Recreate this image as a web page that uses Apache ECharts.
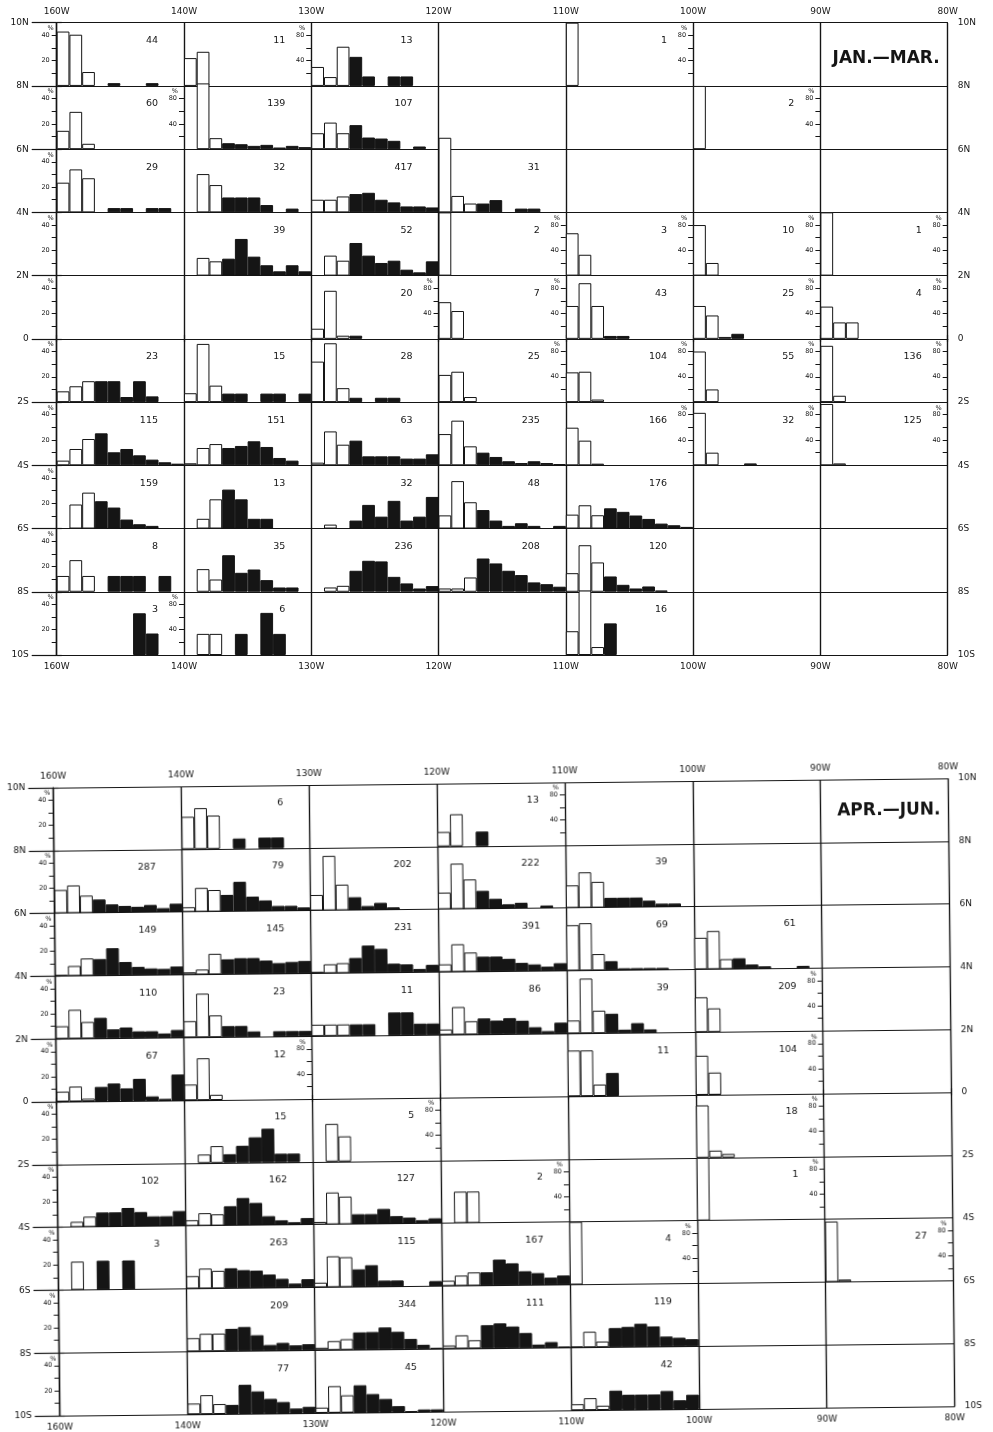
<!DOCTYPE html>
<html>
<head>
<meta charset="utf-8">
<script src="https://cdn.jsdelivr.net/npm/echarts@6/dist/echarts.min.js"></script>
<style>
  html, body { margin: 0; padding: 0; background: #fff; }
  #janMar { position: absolute; left: 0; top: 0; width: 993px; height: 716px; }
  #aprJun { position: absolute; left: 0; top: 716px; width: 993px; height: 716px;
            transform: rotate(-0.6deg); transform-origin: 504px 381px; }
</style>
</head>
<body>
<div id="janMar"></div>
<div id="aprJun"></div>
<script>
// Longitude band edges (7 columns) and latitude band edges (10 rows of 2°)
const LON_LABELS = ['160W', '140W', '130W', '120W', '110W', '100W', '90W', '80W'];
const LAT_LABELS = ['10N', '8N', '6N', '4N', '2N', '0', '2S', '4S', '6S', '8S', '10S'];
// Size classes of each small histogram; the first three are drawn open, the rest solid
const BINS = ['1', '2', '3', '4', '5', '6', '7', '8', '9', '10'];
const OPEN_BINS = 3;
const SEASONS = ['JAN.—MAR.', 'APR.—JUN.'];

// Each record: [lat band (0 = 10N–8N), lon band (0 = 160W–140W), count, % scale max, percent per class]
const JAN_MAR = [
  [0, 0, 44, 50, [43, 40.5, 11, 0, 2.2, 0, 0, 2.2]],
  [0, 1, 11, 100, [44, 54]],
  [0, 2, 13, 50, [15, 7, 31, 23, 7.5, 0, 7.5, 7.5]],
  [0, 4, 1, 100, [100]],
  [1, 0, 60, 100, [29, 59, 8.5]],
  [1, 1, 139, 50, [0, 52, 8.7, 4.7, 3.9, 2.6, 3.4, 1.3, 2.6, 1.6]],
  [1, 2, 107, 50, [12.6, 21, 12.6, 19, 9.2, 8.4, 6.6, 0, 2.1, 0]],
  [1, 5, 2, 100, [100]],
  [2, 0, 29, 50, [23.5, 34, 27, 0, 3.4, 3.4, 0, 3.4, 3.4]],
  [2, 1, 32, 50, [0, 30.3, 21.6, 11.8, 11.8, 11.8, 5.8, 0, 3]],
  [2, 2, 417, 50, [10, 10, 12.6, 14.5, 15.5, 10, 7.9, 4.7, 4.7, 3.9]],
  [2, 3, 31, 50, [59, 13, 7, 7, 9.7, 0, 3, 3]],
  [3, 1, 39, 50, [0, 14, 11.3, 13.4, 29, 15, 8.2, 3.4, 8.2, 3.4]],
  [3, 2, 52, 50, [0, 15.8, 11.8, 25.8, 15.8, 10, 11.8, 4.7, 2.6, 11.3]],
  [3, 3, 2, 100, [100]],
  [3, 4, 3, 100, [67, 33]],
  [3, 5, 10, 100, [80, 20]],
  [3, 6, 1, 100, [100]],
  [4, 2, 20, 100, [16, 76, 5, 5]],
  [4, 3, 7, 100, [58, 44]],
  [4, 4, 43, 50, [26, 44, 26, 2.3, 2.3]],
  [4, 5, 25, 100, [52, 37, 3, 8]],
  [4, 6, 4, 100, [51, 26, 26]],
  [5, 0, 23, 50, [8.5, 12.5, 16.5, 16.5, 16.5, 4, 16.5, 4.5]],
  [5, 1, 15, 50, [7, 46, 13, 6.7, 6.7, 0, 6.7, 6.7, 0, 6.7]],
  [5, 2, 28, 50, [32, 46.5, 11, 3.4, 0, 3.4, 3.4]],
  [5, 3, 25, 100, [43, 48, 8]],
  [5, 4, 104, 100, [47, 48, 4]],
  [5, 5, 55, 100, [80, 20]],
  [5, 6, 136, 100, [89, 10]],
  [6, 0, 115, 50, [3.7, 12.9, 20.8, 25.3, 10.3, 12.9, 7.9, 4.5, 2.4, 1.3]],
  [6, 1, 151, 50, [1.6, 13.7, 16.8, 13.7, 15.3, 19, 14.5, 5.8, 3.7]],
  [6, 2, 63, 50, [2.1, 26.8, 16.3, 19.5, 7.1, 7.1, 7.1, 5.3, 5.3, 8.7]],
  [6, 3, 235, 50, [24.7, 35.3, 15, 10, 6.6, 3.2, 1.8, 3.2, 1.8, 1]],
  [6, 4, 166, 100, [59.5, 39, 2.6]],
  [6, 5, 32, 100, [83, 20, 0, 0, 3]],
  [6, 6, 125, 100, [97, 3]],
  [7, 0, 159, 50, [0, 19, 28.4, 21.6, 16.6, 7.1, 3.4, 2.1]],
  [7, 1, 13, 50, [0, 7.7, 23.1, 30.8, 23.1, 7.7, 7.7]],
  [7, 2, 32, 50, [0, 3.1, 0, 6.3, 18.7, 9.4, 21.9, 6.3, 9.4, 25]],
  [7, 3, 48, 50, [10.4, 37.5, 20.8, 14.6, 6.3, 2.1, 4.2, 2.1, 0, 2.1]],
  [7, 4, 176, 50, [11, 18.4, 10.5, 16, 13.2, 10.3, 7.6, 3.9, 2.6, 1.3]],
  [8, 0, 8, 50, [12.5, 25, 12.5, 0, 12.5, 12.5, 12.5, 0, 12.5]],
  [8, 1, 35, 50, [0, 17.9, 9.7, 28.9, 15, 17.6, 9.2, 3.4, 3.4]],
  [8, 2, 236, 50, [0, 3.4, 4.7, 16.6, 24.5, 24, 11.8, 6.6, 2.6, 4.5]],
  [8, 3, 208, 50, [2.6, 2.6, 11.3, 26.3, 22.4, 16.6, 13.2, 7.4, 6, 4]],
  [8, 4, 120, 50, [14.7, 36.8, 23.2, 12.1, 5.5, 2.6, 4.2, 1]],
  [9, 0, 3, 100, [0, 0, 0, 0, 0, 0, 66, 34]],
  [9, 1, 6, 50, [0, 16.7, 16.7, 0, 16.7, 0, 33.3, 16.7]],
  [9, 4, 16, 50, [18.8, 51, 6.3, 25]]
];

const APR_JUN = [
  [0, 1, 6, 50, [25.7, 32.5, 26.5, 0, 8, 0, 8.5, 8.5]],
  [0, 3, 13, 100, [23, 51, 0, 23]],
  [1, 0, 287, 50, [18.5, 22, 13.8, 10.6, 6.6, 5.3, 4.5, 5.8, 3.2, 6.6]],
  [1, 1, 79, 50, [3.7, 19, 17.2, 13.2, 23.5, 11.6, 8.5, 4, 4, 2.6]],
  [1, 2, 202, 50, [12.4, 43.4, 20.4, 10.3, 3.2, 5.6, 1.9]],
  [1, 3, 222, 50, [13.2, 36.2, 23.5, 14.3, 7.9, 3.4, 4.5, 0, 2.1]],
  [1, 4, 39, 50, [17.9, 28.2, 20.5, 7.7, 7.7, 7.7, 5.1, 2.6, 2.6]],
  [2, 0, 149, 50, [0.8, 7.9, 13.8, 13.2, 21.7, 10.6, 6.6, 5.3, 4.8, 6.6]],
  [2, 1, 145, 50, [1.9, 4, 16.4, 11.9, 12.7, 12.7, 10.6, 8.5, 9.3, 10]],
  [2, 2, 231, 50, [1.3, 7.1, 7.9, 11.9, 21.7, 19, 7.1, 6.4, 2.6, 5.8]],
  [2, 3, 391, 50, [6.1, 22, 15.3, 11.9, 11.9, 10, 6.6, 5.3, 3.4, 6.1]],
  [2, 4, 69, 50, [36.2, 37.7, 13, 7.2, 1.5, 1.5, 1.5, 1.5]],
  [2, 5, 61, 50, [25.1, 30.4, 7.9, 8.5, 3.4, 1.9, 0, 0, 1.9]],
  [3, 0, 110, 50, [10, 23, 13.2, 16.4, 7.1, 8.5, 5.3, 5.3, 3.4, 6.1]],
  [3, 1, 23, 50, [13, 34.8, 17.4, 8.7, 8.7, 4.3, 0, 4.3, 4.3, 4.3]],
  [3, 2, 11, 50, [9.1, 9.1, 9.1, 9.1, 9.1, 0, 18.2, 18.2, 9.1, 9.1]],
  [3, 3, 86, 50, [4.2, 22, 10.6, 12.7, 10.9, 12.7, 10.6, 5.3, 2.1, 8.7]],
  [3, 4, 39, 50, [10.3, 43.6, 17.9, 15.4, 2.6, 7.7, 2.6]],
  [3, 5, 209, 100, [55.5, 37.6]],
  [4, 0, 67, 50, [7.9, 11.9, 2.1, 11.4, 14, 10, 17.5, 3.4, 1.3, 20.6]],
  [4, 1, 12, 100, [25, 66.7, 8.3]],
  [4, 4, 11, 50, [36.4, 36.4, 9.1, 18.2]],
  [4, 5, 104, 100, [62.4, 35.4]],
  [5, 1, 15, 50, [0, 6.7, 13.3, 6.7, 13.3, 20, 26.7, 6.7, 6.7]],
  [5, 2, 5, 100, [0, 60, 40]],
  [5, 5, 18, 100, [83.3, 11.1, 5.6]],
  [6, 0, 102, 50, [0, 4.2, 8.2, 11.4, 11.4, 14.8, 11.4, 7.9, 7.9, 11.9]],
  [6, 1, 162, 50, [4.5, 10, 9, 15.3, 21.7, 17.7, 7.1, 3.7, 2.1, 5.3]],
  [6, 2, 127, 50, [2.1, 25.4, 22, 7.9, 7.9, 11.9, 6.1, 4.8, 2.6, 4]],
  [6, 3, 2, 100, [0, 50, 50]],
  [6, 5, 1, 100, [100]],
  [7, 0, 3, 50, [0, 22.5, 0, 23, 0, 23]],
  [7, 1, 263, 50, [10, 15.9, 14, 15.9, 14.3, 13.8, 10.6, 7.1, 3.2, 6.6]],
  [7, 2, 115, 50, [3.7, 24.6, 23.8, 14, 17.2, 4.8, 4.8, 0, 0, 4]],
  [7, 3, 167, 50, [4.2, 8.2, 10.6, 10.6, 20.6, 17.5, 11.1, 9.5, 5.8, 7.4]],
  [7, 4, 4, 100, [100]],
  [7, 6, 27, 100, [96.3, 3.7]],
  [8, 1, 209, 50, [10.6, 14, 14, 17.7, 19, 12.4, 4.5, 6.1, 4, 4.8]],
  [8, 2, 344, 50, [1.9, 7.1, 8.5, 13.8, 14, 17.5, 14, 8.2, 3.4, 0.8]],
  [8, 3, 111, 50, [2.6, 10.6, 6.6, 18.5, 19.8, 17.2, 11.9, 2.6, 4.5, 0.8]],
  [8, 4, 119, 50, [0.8, 12.4, 4.5, 15.1, 15.9, 18.3, 16.1, 7.9, 6.9, 5.6]],
  [9, 1, 77, 50, [8.5, 15.1, 7.9, 7.1, 23, 17.7, 11.6, 9, 3.7, 5]],
  [9, 2, 45, 50, [4.2, 21.2, 13.8, 21.7, 14.6, 10.6, 4.8, 0.5, 1.9, 1.9]],
  [9, 4, 42, 50, [4.8, 9.5, 3.4, 15.3, 11.9, 11.9, 11.9, 14.6, 7.1, 11.4]]
];

const PAGE_W = 993;
const FONT = '"DejaVu Sans", "Liberation Sans", sans-serif';
const INK = '#151515';
const RULE = { color: INK, width: 1.2 };
const OPEN_STYLE = { color: '#ffffff', borderColor: INK, borderWidth: 1 };
const SOLID_STYLE = { color: INK, borderColor: INK, borderWidth: 1 };

// Small percent axis on the left edge of the 160W column (0–50 %)
function referenceAxis(gridIndex) {
  return {
    gridIndex, type: 'value', min: 0, max: 50, interval: 10, position: 'left',
    axisLine: { show: false }, splitLine: { show: false },
    axisTick: { show: true, length: 5, lineStyle: { color: INK, width: 1 } },
    axisLabel: {
      margin: 7, fontSize: 6.5, color: INK, fontFamily: FONT,
      formatter: v => (v === 20 || v === 40) ? String(v) : ''
    },
    name: '%', nameLocation: 'end', nameGap: -3,
    nameTextStyle: { fontSize: 6.5, color: INK, align: 'right', verticalAlign: 'top', padding: [0, 3, 0, 0] }
  };
}

// Percent axis (0–100 %) drawn inside the right edge of cells whose classes exceed 50 %
function wideAxis(gridIndex) {
  return {
    gridIndex, type: 'value', min: 0, max: 100, interval: 20, position: 'right',
    axisLine: { show: false }, splitLine: { show: false },
    axisTick: { show: true, inside: true, length: 5, lineStyle: { color: INK, width: 1 } },
    axisLabel: {
      inside: true, margin: 7, fontSize: 6.5, color: INK, fontFamily: FONT,
      formatter: v => (v === 40 || v === 80) ? String(v) : ''
    },
    name: '%', nameLocation: 'end', nameGap: -3,
    nameTextStyle: { fontSize: 6.5, color: INK, align: 'right', verticalAlign: 'top', padding: [0, 6, 0, 0] }
  };
}

function frameXAxis(position, tickLen, margin) {
  return {
    gridIndex: 0, type: 'value', min: 0, max: LON_LABELS.length - 1, interval: 1, position,
    axisLine: { show: true, lineStyle: RULE },
    splitLine: { show: true, lineStyle: RULE },
    axisTick: { show: true, length: tickLen, lineStyle: RULE },
    axisLabel: { margin, fontSize: 9, color: INK, fontFamily: FONT, formatter: v => LON_LABELS[v] }
  };
}

function frameYAxis(position, tickLen, margin) {
  return {
    gridIndex: 0, type: 'value', min: -10, max: 10, interval: 2, position,
    axisLine: { show: true, lineStyle: RULE },
    splitLine: { show: true, lineStyle: RULE },
    axisTick: { show: true, length: tickLen, lineStyle: RULE },
    axisLabel: { margin, fontSize: 9, color: INK, fontFamily: FONT, formatter: v => LAT_LABELS[(10 - v) / 2] }
  };
}

function buildPanel(cells, box, season, seasonY) {
  const cols = LON_LABELS.length - 1;
  const rows = LAT_LABELS.length - 1;
  const colW = box.w / cols;
  const rowH = box.h / rows;

  const option = {
    animation: false,
    textStyle: { fontFamily: FONT },
    title: [{
      text: season, right: PAGE_W - (box.x + box.w) + 8, top: box.y + seasonY - 9, padding: 0,
      textStyle: { fontSize: 17, fontWeight: 'bold', color: INK, fontFamily: FONT }
    }],
    grid: [{ left: box.x, top: box.y, width: box.w, height: box.h }],
    xAxis: [frameXAxis('bottom', 3, 7), frameXAxis('top', 4, 7)],
    yAxis: [frameYAxis('left', 25, 28), frameYAxis('right', 5, 10)],
    series: [{ type: 'scatter', xAxisIndex: 0, yAxisIndex: 0, data: [], silent: true }]
  };

  const byCell = new Map(cells.map(rec => [rec[0] + ',' + rec[1], rec]));

  for (let r = 0; r < rows; r++) {
    for (let c = 0; c < cols; c++) {
      const rec = byCell.get(r + ',' + c);
      if (!rec && c !== 0) continue;
      const left = box.x + c * colW;
      const top = box.y + r * rowH;
      const g = option.grid.length;
      option.grid.push({ left, top, width: colW, height: rowH });
      option.xAxis.push({ gridIndex: g, type: 'category', data: BINS, show: false, boundaryGap: true });
      const xIdx = option.xAxis.length - 1;
      let yIdx = -1;
      if (c === 0) {
        option.yAxis.push(referenceAxis(g));
        yIdx = option.yAxis.length - 1;
      }
      if (!rec) continue;
      const [, , count, scaleMax, pct] = rec;
      if (scaleMax === 100) {
        option.yAxis.push(wideAxis(g));
        yIdx = option.yAxis.length - 1;
      } else if (c !== 0) {
        option.yAxis.push({ gridIndex: g, type: 'value', min: 0, max: 50, show: false });
        yIdx = option.yAxis.length - 1;
      }
      option.series.push({
        type: 'bar', xAxisIndex: xIdx, yAxisIndex: yIdx,
        barCategoryGap: '0%', clip: false, silent: true,
        data: pct.map((v, i) => v > 0
          ? { value: v, itemStyle: i < OPEN_BINS ? OPEN_STYLE : SOLID_STYLE }
          : '-')
      });
      option.title.push({
        text: String(count), right: PAGE_W - (left + colW) + 26, top: top + 13, padding: 0,
        textStyle: { fontSize: 9.5, fontWeight: 'normal', color: INK, fontFamily: FONT }
      });
    }
  }
  return option;
}

const janChart = echarts.init(document.getElementById('janMar'), null, { renderer: 'canvas' });
janChart.setOption(buildPanel(JAN_MAR, { x: 56.7, y: 22.7, w: 891, h: 632.3 }, SEASONS[0], 36));

const aprChart = echarts.init(document.getElementById('aprJun'), null, { renderer: 'canvas' });
aprChart.setOption(buildPanel(APR_JUN, { x: 56.5, y: 67, w: 895, h: 628 }, SEASONS[1], 32));
</script>
</body>
</html>
